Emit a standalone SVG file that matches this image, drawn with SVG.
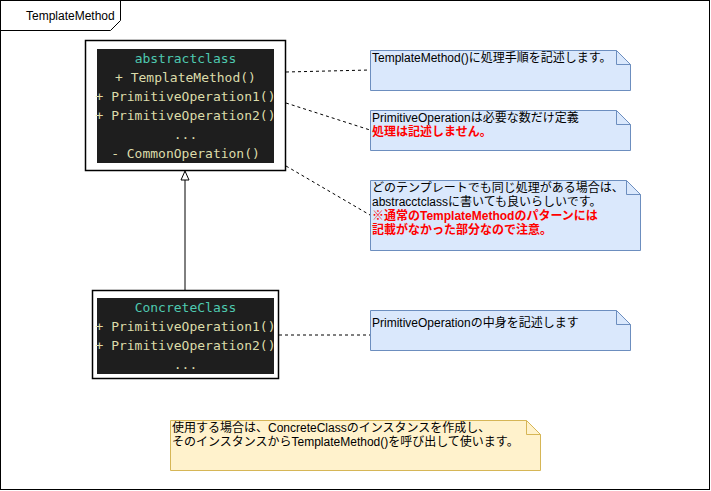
<svg xmlns="http://www.w3.org/2000/svg" width="711" height="491" viewBox="0 0 711 491">
<style>
.note{fill:#dae8fc;stroke:#6c8ebf;stroke-width:1}
.t{font-family:"Liberation Sans","Noto Sans CJK JP",sans-serif;font-size:12px;fill:#000}
.r{fill:#ff0000;font-weight:bold}
.code{font-family:"DejaVu Sans Mono",monospace;font-size:13px;fill:#dcdcaa;text-anchor:middle}
.cls{fill:#4ec9b0}
.conn{stroke:#000;fill:none}
</style>
<rect x="0" y="0" width="711" height="491" fill="#fff"/>
<g id="frame">
<rect x="0.5" y="0.5" width="709" height="489" fill="none" stroke="#000"/>
<path d="M0.5 30.5H110.5L120.5 20.5V0.5" fill="none" stroke="#000"/>
<text class="t" x="26" y="20">TemplateMethod</text>
</g>
<g id="connectors">
<path class="conn" d="M185 290V172" />
<path d="M181 180L185 171L189 180Z" fill="#fff" stroke="#000"/>
<path class="conn" stroke-dasharray="3 3" d="M286 72L370 70M286 103L370 130M286 166L370 215M279 335L370 335"/>
</g>
<g id="abstractclass">
<rect x="85.5" y="40.5" width="200" height="130" fill="#fff" stroke="#000" stroke-width="1.5"/>
<rect x="97" y="49" width="177" height="114" fill="#1e1e1e"/>
<text class="code cls" x="185.5" y="63">abstractclass</text>
<text class="code" x="185.5" y="82">+ TemplateMethod()</text>
<text class="code" x="185.5" y="101">+ PrimitiveOperation1()</text>
<text class="code" x="185.5" y="120">+ PrimitiveOperation2()</text>
<text class="code" x="185.5" y="139">...</text>
<text class="code" x="185.5" y="158">- CommonOperation()</text>
</g>
<g id="concreteclass">
<rect x="92.5" y="290.5" width="186" height="88" fill="#fff" stroke="#000" stroke-width="1.5"/>
<rect x="97" y="298" width="177" height="76" fill="#1e1e1e"/>
<text class="code cls" x="185.5" y="312">ConcreteClass</text>
<text class="code" x="185.5" y="331">+ PrimitiveOperation1()</text>
<text class="code" x="185.5" y="350">+ PrimitiveOperation2()</text>
<text class="code" x="185.5" y="369">...</text>
</g>
<g id="note1">
<path class="note" d="M370.5 50.5H616.5L630.5 64.5V90.5H370.5Z"/>
<path d="M616.5 50.5V64.5H630.5" fill="none" stroke="#6c8ebf"/>
<text class="t" x="372" y="62">TemplateMethod()に処理手順を記述します。</text>
</g>
<g id="note2">
<path class="note" d="M370.5 110.5H616.5L630.5 124.5V150.5H370.5Z"/>
<path d="M616.5 110.5V124.5H630.5" fill="none" stroke="#6c8ebf"/>
<text class="t" x="372" y="122">PrimitiveOperationは必要な数だけ定義</text>
<text class="t r" x="372" y="136">処理は記述しません。</text>
</g>
<g id="note3">
<path class="note" d="M370.5 180.5H626.5L640.5 194.5V250.5H370.5Z"/>
<path d="M626.5 180.5V194.5H640.5" fill="none" stroke="#6c8ebf"/>
<text class="t" x="372" y="192">どのテンプレートでも同じ処理がある場合は、</text>
<text class="t" x="372" y="206">abstracctclassに書いても良いらしいです。</text>
<text class="t r" x="372" y="220">※通常のTemplateMethodのパターンには</text>
<text class="t r" x="372" y="234">記載がなかった部分なので注意。</text>
</g>
<g id="note4">
<path class="note" d="M370.5 310.5H616.5L630.5 324.5V350.5H370.5Z"/>
<path d="M616.5 310.5V324.5H630.5" fill="none" stroke="#6c8ebf"/>
<text class="t" x="372" y="327">PrimitiveOperationの中身を記述します</text>
</g>
<g id="note5">
<path d="M170.5 420.5H526.5L540.5 434.5V470.5H170.5Z" fill="#fff2cc" stroke="#d6b656"/>
<path d="M526.5 420.5V434.5H540.5" fill="none" stroke="#d6b656"/>
<text class="t" x="172" y="432">使用する場合は、ConcreteClassのインスタンスを作成し、</text>
<text class="t" x="172" y="446">そのインスタンスからTemplateMethod()を呼び出して使います。</text>
</g>
</svg>
